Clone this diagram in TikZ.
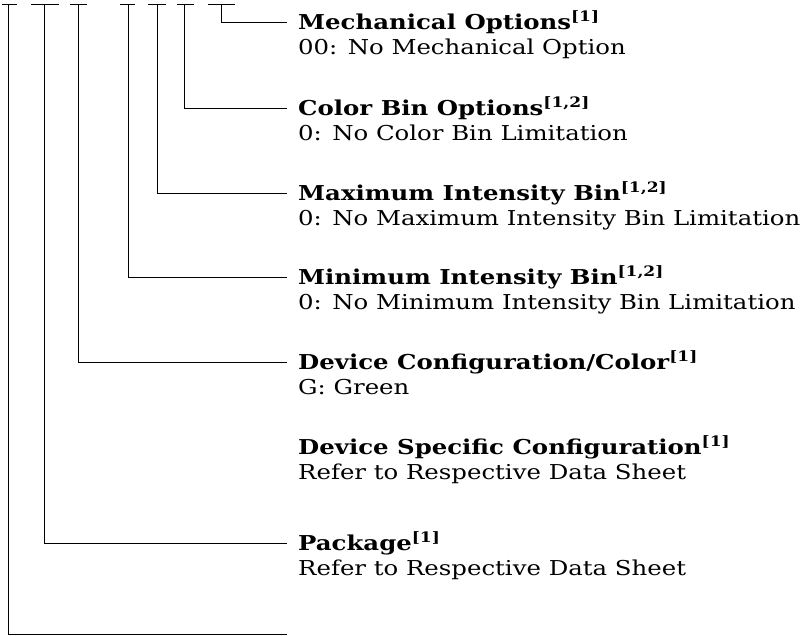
\documentclass[tikz,border=0pt]{standalone}
\usepackage{fontspec}
\setmainfont{DejaVu Serif}[FakeStretch=1.19]
\begin{document}
\begin{tikzpicture}[x=1pt,y=-1pt,
  conn/.style={line width=1pt,draw=black},
  head/.style={anchor=base west,inner sep=0pt,font=\fontsize{20.5}{25}\selectfont\bfseries},
  sub/.style={anchor=base west,inner sep=0pt,font=\fontsize{20.5}{25}\selectfont}]
\useasboundingbox (0,0) rectangle (809,635);
% tick tops
\foreach \n/\x/\a/\b in {A/8.5/2/17, B/44/31/59, C/78/70/87, D/128/120/135, E/157/148/166, F/184/177/194, G/221/208/235}{
  \coordinate (t\n) at (\x,4);
  \coordinate (l\n) at (\a,4);
  \coordinate (r\n) at (\b,4);
  \draw[conn] (l\n) -- (r\n);
}
% labels
\newcommand{\grp}[4]{%
  \node[head] (h#1) at (298,#2+7.5) {#3};
  \node[sub] (s#1) at (298,#2+32.5) {#4};
}
\grp{G}{22}{Mechanical Options\textsuperscript{[1]}}{00: No Mechanical Option}
\grp{F}{108}{Color Bin Options\textsuperscript{[1,2]}}{0: No Color Bin Limitation}
\grp{E}{193}{Maximum Intensity Bin\textsuperscript{[1,2]}}{0: No Maximum Intensity Bin Limitation}
\grp{D}{277}{Minimum Intensity Bin\textsuperscript{[1,2]}}{0: No Minimum Intensity Bin Limitation}
\grp{C}{362}{Device Configuration/Color\textsuperscript{[1]}}{G: Green}
\grp{X}{447}{Device Specific Configuration\textsuperscript{[1]}}{Refer to Respective Data Sheet}
\grp{B}{543}{Package\textsuperscript{[1]}}{Refer to Respective Data Sheet}
% connector ends
\foreach \n/\y in {G/22, F/108, E/193, D/277, C/362, B/543, A/634}{
  \coordinate (e\n) at (287,\y);
  \draw[conn] (t\n) |- (e\n);
}
\end{tikzpicture}
\end{document}
